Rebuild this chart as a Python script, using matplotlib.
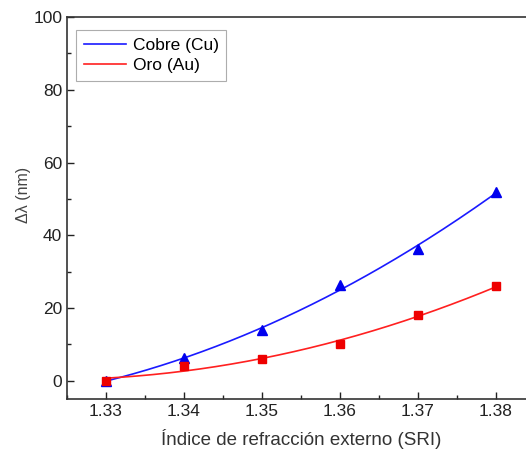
import numpy as np
import matplotlib
matplotlib.use('Agg')
import matplotlib.pyplot as plt
from matplotlib.ticker import MultipleLocator

# datos
sri = [1.33, 1.34, 1.35, 1.36, 1.37, 1.38]
cobre = [0.0, 6.2, 14.1, 26.2, 36.3, 51.9]
oro = [0.0, 4.1, 6.1, 10.1, 18.0, 26.0]

plt.rcParams['font.family'] = ['Liberation Sans', 'DejaVu Sans']

fig = plt.figure(figsize=(5.26, 4.55), dpi=100)
ax = fig.add_axes([67/526, 1-399/455, (535-67)/526, (399-17)/455])

# ajuste polinómico de segundo orden
xf = np.linspace(min(sri), max(sri), 200)
fit_cu = np.polyval(np.polyfit(sri, cobre, 2), xf)
fit_au = np.polyval(np.polyfit(sri, oro, 2), xf)

ax.plot(xf, fit_cu, color='#1a1aff', lw=1.2, label='Cobre (Cu)')
ax.plot(xf, fit_au, color='#ff2020', lw=1.2, label='Oro (Au)')
ax.plot(sri, cobre, '^', color='#0000ee', ms=7.5, ls='none')
ax.plot(sri, oro, 's', color='#ee0000', ms=5.5, ls='none')

ax.set_xlim(1.325, 1.385)
ax.set_ylim(-5, 100)
ax.xaxis.set_major_locator(MultipleLocator(0.01))
ax.xaxis.set_minor_locator(MultipleLocator(0.005))
ax.yaxis.set_major_locator(MultipleLocator(20))
ax.yaxis.set_minor_locator(MultipleLocator(10))
ax.tick_params(which='both', direction='in', top=False, right=False,
               labelsize=12.5, colors='#222222', width=1)
ax.tick_params(which='major', length=5)
ax.tick_params(which='minor', length=3)
ax.set_xticklabels(['', '1.33', '1.34', '1.35', '1.36', '1.37', '1.38', ''])
for s in ax.spines.values():
    s.set_linewidth(1.2)
    s.set_color('#333333')

ax.set_xlabel('Índice de refracción externo (SRI)', fontsize=13.5, color='#333333', labelpad=7)
ax.set_ylabel('Δλ (nm)', fontsize=11.5, color='#444444')
ax.yaxis.set_label_coords(-0.076, 0.534)

leg = ax.legend(loc='upper left', bbox_to_anchor=(0.012, 0.975), fontsize=12.5,
                frameon=True, fancybox=False, edgecolor='#999999',
                handlelength=2.4, handletextpad=0.4, borderpad=0.45,
                labelspacing=0.3, borderaxespad=0.2)
leg.get_frame().set_linewidth(0.8)

fig.savefig('out.png', dpi=100)
